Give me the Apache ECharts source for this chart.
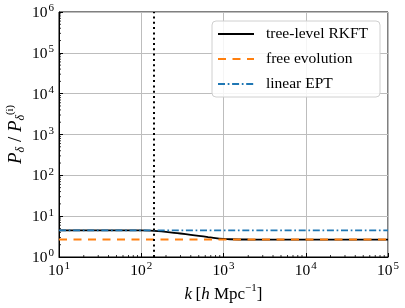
<!DOCTYPE html>
<html>
<head>
<meta charset="utf-8">
<script src="https://cdn.jsdelivr.net/npm/echarts@6/dist/echarts.min.js"></script>
<style>html,body{margin:0;padding:0;background:#fff;}#c{width:405px;height:308px;}</style>
</head>
<body>
<div id="c"></div>
<script>
// ---- data ----
const treeK = [10, 30, 100, 130, 160, 200, 250, 300, 400, 500, 650, 800, 1000, 1200, 2000, 10000, 100000];
const treeRatio = [4.5, 4.5, 4.47, 4.42, 4.3, 4.12, 3.92, 3.76, 3.5, 3.3, 3.07, 2.9, 2.78, 2.72, 2.68, 2.67, 2.67];
const freeK = [10, 100000];
const freeRatio = [2.67, 2.67];
const linearK = [10, 100000];
const linearRatio = [4.5, 4.5];
const dividerK = [140];
const xMinor = [];
for (let e = 1; e < 5; e++) for (let m = 2; m <= 9; m++) xMinor.push(m * Math.pow(10, e));
const yMinor = [];
for (let e = 0; e < 6; e++) for (let m = 2; m <= 9; m++) yMinor.push(m * Math.pow(10, e));

const FONT = 'Liberation Serif';
const pairs = (xs, ys) => xs.map((x, i) => [x, ys[i]]);
const powLabel = v => '{b|10}{s|' + Math.round(Math.log10(v)) + '}';
const tickRich = {
  b: {fontFamily: FONT, fontWeight: 'normal', fontSize: 15.5, color: '#000', lineHeight: 18, verticalAlign: 'bottom'},
  s: {fontFamily: FONT, fontWeight: 'normal', fontSize: 11, color: '#000', lineHeight: 18, verticalAlign: 'top', padding: [0, 0, 0, 1]}
};

const chart = echarts.init(document.getElementById('c'), null, {renderer: 'canvas'});
chart.setOption({
  animation: false,
  backgroundColor: '#fff',
  grid: {left: 59, right: 17, top: 12, bottom: 51, outerBoundsMode: 'none', containLabel: false,
         show: true, borderColor: '#000', borderWidth: 1, backgroundColor: 'transparent'},
  legend: {
    left: 212, top: 21, orient: 'vertical',
    data: ['tree-level RKFT', 'free evolution', 'linear EPT'],
    itemWidth: 36, itemHeight: 14, itemGap: 9,
    padding: [5, 12, 5, 5],
    itemStyle: {opacity: 0},
    backgroundColor: 'rgba(255,255,255,0.85)', borderColor: '#d0d0d0', borderWidth: 1, borderRadius: 4,
    textStyle: {fontFamily: FONT, fontWeight: 'normal', fontSize: 15.5, color: '#000', padding: [0, 0, 0, 7]}
  },
  xAxis: {
    type: 'log', logBase: 10, min: 10, max: 100000,
    name: '{i|k} {n|[}{i|h}{n| Mpc}{s|−1}{n|]}',
    nameLocation: 'middle', nameGap: 26, nameMoveOverlap: false,
    nameTextStyle: {fontWeight: 'normal', rich: {
      i: {fontFamily: FONT, fontStyle: 'italic', fontWeight: 'normal', fontSize: 17, color: '#000', lineHeight: 20, verticalAlign: 'bottom'},
      n: {fontFamily: FONT, fontWeight: 'normal', fontSize: 17, color: '#000', lineHeight: 20, verticalAlign: 'bottom'},
      s: {fontFamily: FONT, fontWeight: 'normal', fontSize: 11, color: '#000', lineHeight: 20, verticalAlign: 'top'}
    }},
    axisLine: {show: true, lineStyle: {color: '#000', width: 1}},
    axisTick: {show: true, inside: true, length: 4, lineStyle: {color: '#000'}},
    minorTick: {show: false},
    axisLabel: {formatter: powLabel, rich: tickRich, margin: 4},
    splitLine: {show: true, lineStyle: {color: '#bdbdbd', width: 1}}
  },
  yAxis: {
    type: 'log', logBase: 10, min: 1, max: 1000000,
    name: '{i|P}{sb|δ}{n| / }{i|P}{sb|δ}{sp|(i)}',
    nameLocation: 'middle', nameGap: 32, nameRotate: 90, nameMoveOverlap: false,
    nameTextStyle: {fontWeight: 'normal', rich: {
      i: {fontFamily: FONT, fontStyle: 'italic', fontWeight: 'normal', fontSize: 19, color: '#000', lineHeight: 22, verticalAlign: 'middle'},
      n: {fontFamily: FONT, fontWeight: 'normal', fontSize: 19, color: '#000', lineHeight: 22, verticalAlign: 'middle'},
      sb: {fontFamily: FONT, fontStyle: 'italic', fontWeight: 'normal', fontSize: 12, color: '#000', lineHeight: 22, verticalAlign: 'bottom'},
      sp: {fontFamily: FONT, fontWeight: 'normal', fontSize: 10.5, color: '#000', lineHeight: 22, verticalAlign: 'top'}
    }},
    axisLine: {show: true, lineStyle: {color: '#000', width: 1}},
    axisTick: {show: true, inside: true, length: 4, lineStyle: {color: '#000'}},
    minorTick: {show: false},
    axisLabel: {formatter: powLabel, rich: tickRich, margin: 5},
    splitLine: {show: true, lineStyle: {color: '#bdbdbd', width: 1}}
  },
  series: [
    {
      name: 'tree-level RKFT', type: 'line', data: pairs(treeK, treeRatio),
      symbol: 'none', smooth: 0.3, lineStyle: {color: '#000', width: 1.8}, itemStyle: {color: '#000'},
      markLine: {
        symbol: 'none', silent: true, label: {show: false},
        lineStyle: {color: '#000', type: [2, 3.3], width: 2},
        data: dividerK.map(k => ({xAxis: k}))
      }
    },
    {
      name: 'free evolution', type: 'line', data: pairs(freeK, freeRatio),
      symbol: 'none', lineStyle: {color: '#ff7f0e', width: 2, type: [8, 6.5]}, itemStyle: {color: '#ff7f0e'}
    },
    {
      name: 'linear EPT', type: 'line', data: pairs(linearK, linearRatio),
      symbol: 'none', lineStyle: {color: '#1f77b4', width: 1.8, type: [7, 2.7, 1.7, 2.7]}, itemStyle: {color: '#1f77b4'}
    },
    {
      type: 'custom', silent: true, clip: false, data: xMinor.map(k => [k, 1]),
      renderItem: (params, api) => {
        const p = api.coord([api.value(0), api.value(1)]);
        return {type: 'line', shape: {x1: p[0], y1: p[1], x2: p[0], y2: p[1] - 2}, style: {stroke: '#000', lineWidth: 0.8}};
      }
    },
    {
      type: 'custom', silent: true, clip: false, data: yMinor.map(v => [10, v]),
      renderItem: (params, api) => {
        const p = api.coord([api.value(0), api.value(1)]);
        return {type: 'line', shape: {x1: p[0], y1: p[1], x2: p[0] + 2, y2: p[1]}, style: {stroke: '#000', lineWidth: 0.8}};
      }
    }
  ]
});
</script>
</body>
</html>
